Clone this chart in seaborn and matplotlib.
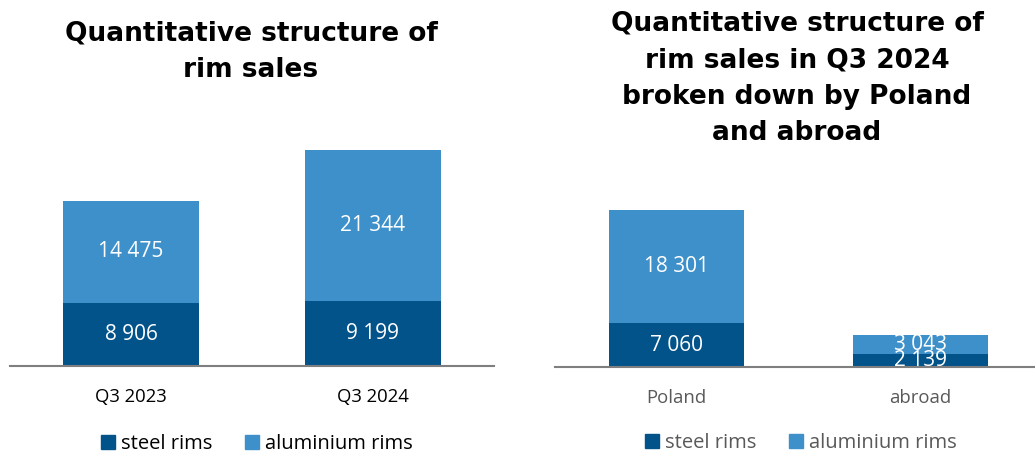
import matplotlib
matplotlib.use("Agg")
import matplotlib.pyplot as plt
import seaborn as sns
import pandas as pd
from matplotlib.patches import Patch

# ---- data ----
periods = ["Q3 2023", "Q3 2024"]
steel_periods = [8906, 9199]
alu_periods = [14475, 21344]

regions = ["Poland", "abroad"]
steel_regions = [7060, 2139]
alu_regions = [18301, 3043]

series_names = ["steel rims", "aluminium rims"]
title_left = "Quantitative structure of\nrim sales"
title_right = "Quantitative structure of\nrim sales in Q3 2024\nbroken down by Poland\nand abroad"

STEEL = "#03538B"
ALU = "#3E90CA"

sns.set_theme(style="white")
plt.rcParams["font.family"] = ["Open Sans", "DejaVu Sans"]

W, H = 1035, 454
fig = plt.figure(figsize=(W / 100, H / 100), dpi=100)

def fmt(v):
    return f"{v:,}".replace(",", " ")

def draw(ax_rect, cats, steel, alu, ymax, tick_color, width):
    ax = fig.add_axes(ax_rect)
    df = pd.DataFrame({"cat": cats, "steel": steel, "alu": alu})
    df["total"] = df["steel"] + df["alu"]
    sns.barplot(data=df, x="cat", y="total", color=ALU, saturation=1,
                width=width, ax=ax, linewidth=0)
    sns.barplot(data=df, x="cat", y="steel", color=STEEL, saturation=1,
                width=width, ax=ax, linewidth=0)
    for i, r in df.iterrows():
        ax.text(i, r["steel"] / 2, fmt(r["steel"]), ha="center", va="center",
                color="white", fontsize=15)
        ax.text(i, r["steel"] + r["alu"] / 2, fmt(r["alu"]), ha="center",
                va="center", color="white", fontsize=15)
    ax.set_xlim(-0.5, 1.5)
    ax.set_ylim(0, ymax)
    ax.set_xlabel("")
    ax.set_ylabel("")
    ax.set_yticks([])
    for s in ["left", "right", "top"]:
        ax.spines[s].set_visible(False)
    ax.spines["bottom"].set_color("#7F7F7F")
    ax.spines["bottom"].set_linewidth(1.5)
    ax.tick_params(axis="x", length=0, pad=16, labelsize=13.3, labelcolor=tick_color)
    return ax

# left panel
axL = draw([10 / W, 88 / H, 484 / W, 226 / H], periods, steel_periods,
           alu_periods, 32000, "black", 0.558)
# right panel
axR = draw([555 / W, 87 / H, 487 / W, 198 / H], regions, steel_regions,
           alu_regions, 32000, "#595959", 0.554)

handles = [Patch(color=STEEL), Patch(color=ALU)]
fig.legend(handles, series_names, loc="center", bbox_to_anchor=(257 / W, 1 - 444 / H),
           ncol=2, frameon=False, fontsize=14.5, handlelength=0.7, handleheight=0.7,
           handletextpad=0.3, columnspacing=1.6, labelcolor="black")
fig.legend(handles, series_names, loc="center", bbox_to_anchor=(801 / W, 1 - 443 / H),
           ncol=2, frameon=False, fontsize=14.5, handlelength=0.7, handleheight=0.7,
           handletextpad=0.3, columnspacing=1.6, labelcolor="#595959")

fig.text(251 / W, 1 - 21 / H, title_left, ha="center", va="top", fontsize=19,
         fontweight="bold", family="DejaVu Sans", linespacing=1.52, color="black")
fig.text(797 / W, 1 - 11 / H, title_right, ha="center", va="top", fontsize=19,
         fontweight="bold", family="DejaVu Sans", linespacing=1.52, color="black")

fig.savefig("out.png", dpi=100)
